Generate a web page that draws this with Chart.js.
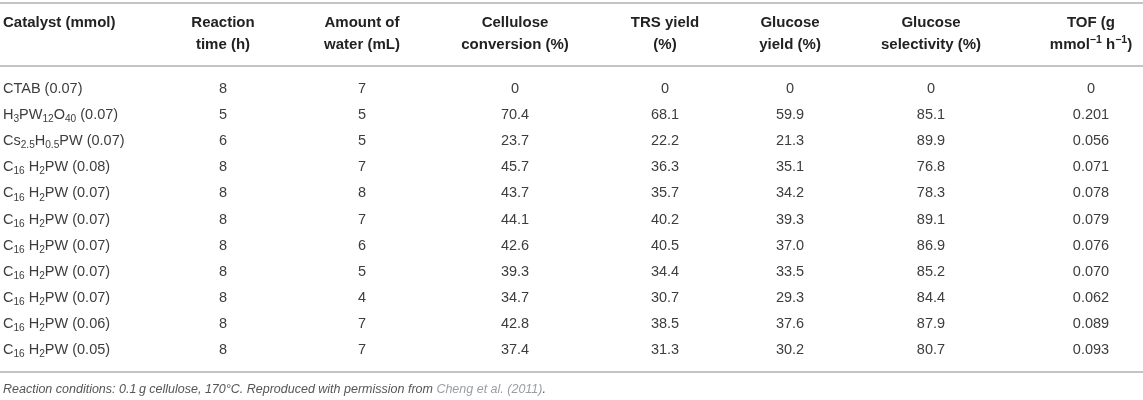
<!DOCTYPE html>
<html>
<head>
<meta charset="utf-8">
<script src="https://cdn.jsdelivr.net/npm/chart.js@4"></script>
<style>
  html, body { margin: 0; padding: 0; background: #ffffff; }
  #wrap { width: 1143px; height: 400px; }
</style>
</head>
<body>
<div id="wrap"><canvas id="c" width="1143" height="400"></canvas></div>
<script>
// ---------- DATA ----------
const catalysts = [
  'CTAB (0.07)',
  'H_{3}PW_{12}O_{40} (0.07)',
  'Cs_{2.5}H_{0.5}PW (0.07)',
  'C_{16} H_{2}PW (0.08)',
  'C_{16} H_{2}PW (0.07)',
  'C_{16} H_{2}PW (0.07)',
  'C_{16} H_{2}PW (0.07)',
  'C_{16} H_{2}PW (0.07)',
  'C_{16} H_{2}PW (0.07)',
  'C_{16} H_{2}PW (0.06)',
  'C_{16} H_{2}PW (0.05)'
];
const reactionTime       = [8, 5, 6, 8, 8, 8, 8, 8, 8, 8, 8];
const waterAmount        = [7, 5, 5, 7, 8, 7, 6, 5, 4, 7, 7];
const celluloseConversion= [0, 70.4, 23.7, 45.7, 43.7, 44.1, 42.6, 39.3, 34.7, 42.8, 37.4];
const trsYield           = [0, 68.1, 22.2, 36.3, 35.7, 40.2, 40.5, 34.4, 30.7, 38.5, 31.3];
const glucoseYield       = [0, 59.9, 21.3, 35.1, 34.2, 39.3, 37.0, 33.5, 29.3, 37.6, 30.2];
const glucoseSelectivity = [0, 85.1, 89.9, 76.8, 78.3, 89.1, 86.9, 85.2, 84.4, 87.9, 80.7];
const tof                = [0, 0.201, 0.056, 0.071, 0.078, 0.079, 0.076, 0.070, 0.062, 0.089, 0.093];

const headers = [
  ['Catalyst (mmol)'],
  ['Reaction', 'time (h)'],
  ['Amount of', 'water (mL)'],
  ['Cellulose', 'conversion (%)'],
  ['TRS yield', '(%)'],
  ['Glucose', 'yield (%)'],
  ['Glucose', 'selectivity (%)'],
  ['TOF (g', 'mmol^{\u22121} h^{\u22121})']
];
const footnoteText = 'Reaction conditions: 0.1\u2009g cellulose, 170\u00b0C. Reproduced with permission from ';
const footnoteLink = 'Cheng et al. (2011)';
const footnoteEnd  = '.';

// ---------- LAYOUT / STYLE ----------
const numericColumns = [reactionTime, waterAmount, celluloseConversion, trsYield, glucoseYield, glucoseSelectivity, tof];
const decimals = [0, 0, 1, 1, 1, 1, 3];
const colX = [0.26, 19.51, 31.67, 45.06, 58.18, 69.12, 81.45, 95.45]; // x-scale positions (percent of width)
const FONT = '"Liberation Sans", Arial, Helvetica, sans-serif';
const bodySize = 14.5, headSize = 15, footSize = 12.5;
const bodyColor = '#3d3d3d', headColor = '#222222', ruleColor = '#c4c4c4';

function fmt(v, d) { return v === 0 ? '0' : v.toFixed(d); }

function parseRich(str) {
  const parts = str.split(/(_\{[^}]*\}|\^\{[^}]*\})/).filter(s => s.length);
  return parts.map(p => {
    if (p.startsWith('_{')) return { t: p.slice(2, -1), m: 'sub' };
    if (p.startsWith('^{')) return { t: p.slice(2, -1), m: 'sup' };
    return { t: p, m: 'n' };
  });
}
function drawRich(ctx, str, x, y, align, size, weight, color, style) {
  const segs = parseRich(str);
  const fontFor = m => (style || '') + ' ' + weight + ' ' + (m === 'n' ? size : size * 0.7) + 'px ' + FONT;
  let total = 0;
  segs.forEach(s => { ctx.font = fontFor(s.m); s.w = ctx.measureText(s.t).width; total += s.w; });
  let cx = align === 'center' ? x - total / 2 : x;
  ctx.fillStyle = color;
  ctx.textAlign = 'left';
  ctx.textBaseline = 'middle';
  segs.forEach(s => {
    ctx.font = fontFor(s.m);
    let dy = 0;
    if (s.m === 'sub') dy = size * 0.3;
    if (s.m === 'sup') dy = -size * 0.32;
    ctx.fillText(s.t, cx, y + dy);
    cx += s.w;
  });
}

// datasets: one per column, one point per row, positioned by the scales
const datasets = [];
datasets.push({
  label: headers[0][0],
  data: catalysts.map((c, i) => ({ x: colX[0], y: i })),
  texts: catalysts, align: 'left'
});
numericColumns.forEach((arr, k) => {
  datasets.push({
    label: headers[k + 1].join(' '),
    data: arr.map((v, i) => ({ x: colX[k + 1], y: i })),
    texts: arr.map(v => fmt(v, decimals[k])), align: 'center'
  });
});
datasets.forEach(d => { d.pointRadius = 0; d.showLine = false; });

const tablePlugin = {
  id: 'tablePlugin',
  afterDatasetsDraw(chart) {
    const ctx = chart.ctx;
    const area = chart.chartArea;
    ctx.save();
    // rules
    ctx.strokeStyle = ruleColor;
    ctx.lineWidth = 2;
    [area.top - 63, area.top, area.bottom].forEach(y => {
      ctx.beginPath(); ctx.moveTo(area.left, y); ctx.lineTo(area.right, y); ctx.stroke();
    });
    // header
    const xs = chart.scales.x;
    headers.forEach((lines, k) => {
      const px = xs.getPixelForValue(colX[k]);
      lines.forEach((ln, j) => {
        drawRich(ctx, ln, px, area.top - 43 + j * 21.5, k === 0 ? 'left' : 'center', headSize, 'bold', headColor);
      });
    });
    // cells
    chart.data.datasets.forEach((ds, di) => {
      const meta = chart.getDatasetMeta(di);
      meta.data.forEach((pt, i) => {
        drawRich(ctx, ds.texts[i], pt.x, pt.y, ds.align, bodySize, 'normal', bodyColor);
      });
    });
    // footnote
    const fy = area.bottom + 18;
    ctx.font = 'italic ' + footSize + 'px ' + FONT;
    ctx.textAlign = 'left'; ctx.textBaseline = 'middle';
    let fx = xs.getPixelForValue(colX[0]);
    ctx.fillStyle = '#555555'; ctx.fillText(footnoteText, fx, fy); fx += ctx.measureText(footnoteText).width;
    ctx.fillStyle = '#9a9ea3'; ctx.fillText(footnoteLink, fx, fy); fx += ctx.measureText(footnoteLink).width;
    ctx.fillStyle = '#555555'; ctx.fillText(footnoteEnd, fx, fy);
    ctx.restore();
  }
};

new Chart(document.getElementById('c'), {
  type: 'scatter',
  data: { datasets },
  options: {
    responsive: false,
    animation: false,
    events: [],
    layout: { padding: { top: 66, bottom: 28, left: 0, right: 0 } },
    plugins: { legend: { display: false }, tooltip: { enabled: false } },
    scales: {
      x: { type: 'linear', display: false, min: 0, max: 100 },
      y: { type: 'linear', display: false, reverse: true, min: -0.88, max: 10.84 }
    }
  },
  plugins: [tablePlugin]
});
</script>
</body>
</html>
